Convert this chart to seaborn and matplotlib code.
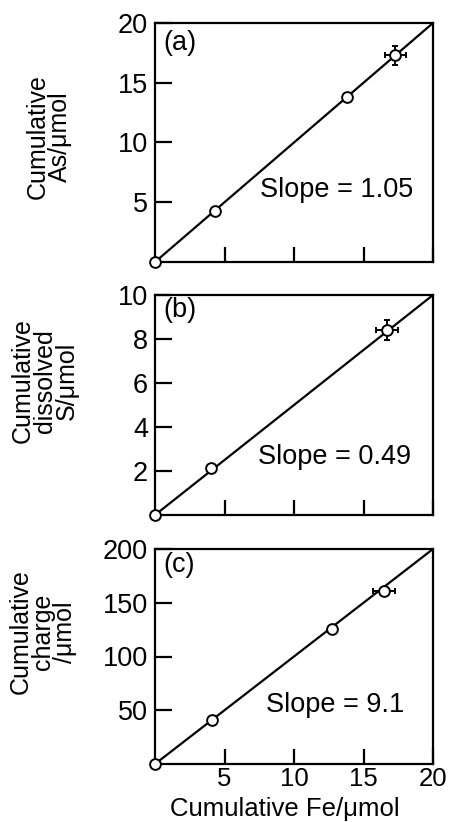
import matplotlib
matplotlib.use("Agg")
import matplotlib.pyplot as plt
import seaborn as sns
import pandas as pd

# ---- data ----
fe_a = [0.0, 4.3, 13.8, 17.3]
as_a = [0.0, 4.3, 13.8, 17.3]
xerr_a = [0, 0, 0, 0.75]
yerr_a = [0, 0, 0, 0.8]

fe_b = [0.0, 4.0, 16.7]
s_b = [0.0, 2.15, 8.4]
xerr_b = [0, 0, 0.8]
yerr_b = [0, 0, 0.45]

fe_c = [0.0, 4.1, 12.7, 16.5]
q_c = [0.0, 40.5, 126.0, 161.0]
xerr_c = [0, 0, 0, 0.8]
yerr_c = [0, 0, 0, 3.0]

fit_x = [0, 20]
fit_a = [0, 20]
fit_b = [0, 10]
fit_c = [0, 200]

slopes = ["1.05", "0.49", "9.1"]
panel_tags = ["(a)", "(b)", "(c)"]
ylabels = ["Cumulative\nAs/\u03bcmol", "Cumulative\ndissolved\nS/\u03bcmol",
           "Cumulative\ncharge\n/\u03bcmol"]
xlabel = "Cumulative Fe/\u03bcmol"
x_ticks = [5, 10, 15, 20]
y_ticks = [[5, 10, 15, 20], [2, 4, 6, 8, 10], [50, 100, 150, 200]]
y_lims = [20, 10, 200]

sns.set_style("ticks")
plt.rcParams['font.family'] = ['Liberation Sans', 'DejaVu Sans']
for k in ["text.color", "axes.labelcolor", "xtick.color", "ytick.color", "axes.edgecolor"]:
    plt.rcParams[k] = "black"
FS = 18
FS_BIG = 19.5

fig = plt.figure(figsize=(4.5, 8.22), dpi=100)
W, H = 450, 822
def rect(l, r, t, b):
    return [l / W, 1 - b / H, (r - l) / W, (b - t) / H]

axes = [fig.add_axes(rect(155, 433, 23, 262)),
        fig.add_axes(rect(155, 433, 295, 515)),
        fig.add_axes(rect(155, 433, 549, 764))]

datasets = [(fe_a, as_a, xerr_a, yerr_a, fit_a),
            (fe_b, s_b, xerr_b, yerr_b, fit_b),
            (fe_c, q_c, xerr_c, yerr_c, fit_c)]

ylab_pos = [(-0.381, 0.523), (-0.397, 0.61), (-0.403, 0.614)]
tag_pos = [(0.029, 0.916), (0.029, 0.93), (0.029, 0.925)]
slope_pos = [(0.378, 0.30), (0.371, 0.265), (0.40, 0.274)]

for i, ax in enumerate(axes):
    fx, fy, xe, ye, fit = datasets[i]
    sns.lineplot(x=fit_x, y=fit, ax=ax, color="black", linewidth=1.6, zorder=2)
    ax.errorbar(fx, fy, xerr=xe, yerr=ye, fmt="none", ecolor="black",
                elinewidth=1.4, capsize=2.5, capthick=1.4, zorder=3)
    sns.scatterplot(x=fx, y=fy, ax=ax, marker="o", s=60, facecolor="white",
                    edgecolor="black", linewidth=1.4, zorder=4, clip_on=False)
    ax.set_xlim(0, 20)
    ax.set_ylim(0, y_lims[i])
    ax.set_xticks(x_ticks)
    ax.set_yticks(y_ticks[i])
    ax.tick_params(direction="in", length=12, width=1.6, labelsize=FS_BIG, pad=5)
    ax.tick_params(axis="x", length=11, pad=2, labelsize=18.5)
    for sp in ax.spines.values():
        sp.set_visible(True)
        sp.set_linewidth(1.6)
        sp.set_color("black")
    if i < 2:
        ax.tick_params(axis="x", labelbottom=False)
    ax.set_xlabel("")
    ax.set_ylabel("")
    ax.text(ylab_pos[i][0], ylab_pos[i][1], ylabels[i], rotation=90,
            ha="center", va="center", ma="center", fontsize=FS,
            linespacing=0.9, transform=ax.transAxes)
    ax.text(tag_pos[i][0], tag_pos[i][1], panel_tags[i], ha="left",
            va="center", fontsize=FS_BIG, transform=ax.transAxes)
    ax.text(slope_pos[i][0], slope_pos[i][1], "Slope = " + slopes[i],
            ha="left", va="center", fontsize=FS_BIG, transform=ax.transAxes)

fig.text(285 / W, 1 - 821 / H, xlabel, ha="center", va="bottom", fontsize=18.5)

fig.savefig("out.png", dpi=100)
